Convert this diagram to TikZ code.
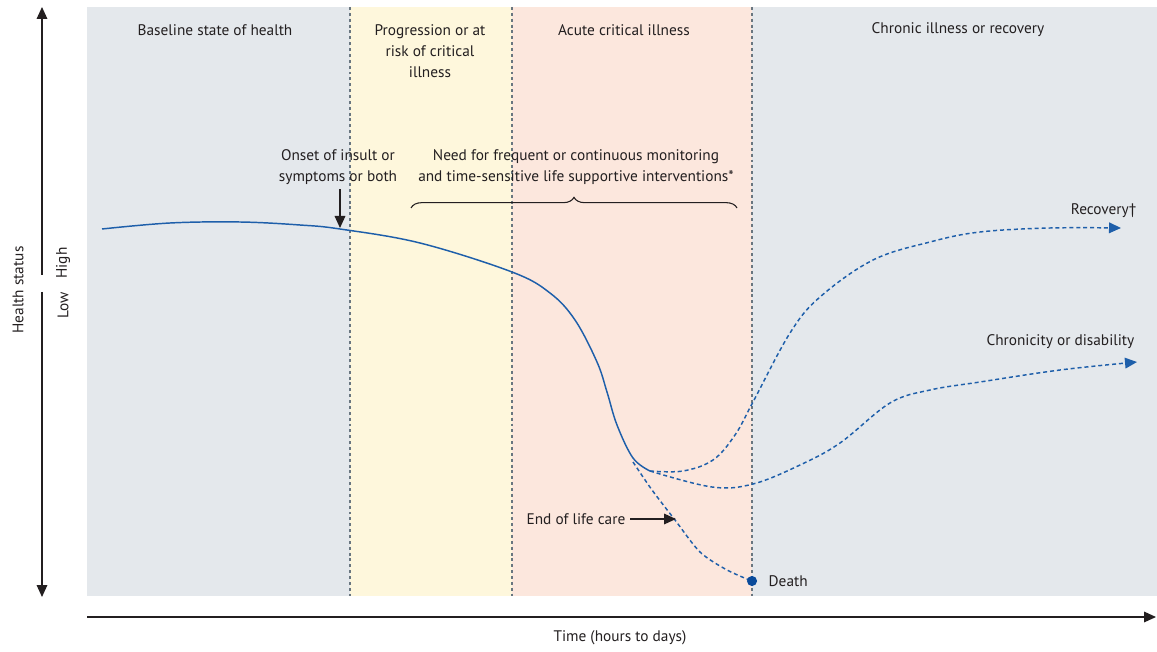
\documentclass[tikz,border=0pt]{standalone}
\usepackage{fontspec}
\setmainfont{PT Sans}
\usetikzlibrary{arrows.meta,decorations.pathreplacing}

\definecolor{panelgray}{RGB}{228,232,236}
\definecolor{panelyellow}{RGB}{254,247,220}
\definecolor{panelpink}{RGB}{252,231,221}
\definecolor{divgray}{RGB}{105,118,128}
\definecolor{curveblue}{RGB}{30,95,170}
\definecolor{dotblue}{RGB}{10,75,155}
\definecolor{txtgray}{RGB}{35,31,32}

\begin{document}
\begin{tikzpicture}[x=0.75pt,y=-0.75pt,>={Triangle[length=9pt,width=8pt]},
        every node/.style={font=\fontsize{11.5}{15.75}\selectfont, text=txtgray},
        divider/.style={divgray, line width=0.8pt, dash pattern=on 2.2pt off 2.2pt},
        course/.style={curveblue, line width=1.1pt},
        branch/.style={course, dash pattern=on 3pt off 2.2pt}]
        \useasboundingbox (0,0) rectangle (1157,652);

        % phases
        \fill[panelgray] (87,7) rectangle (350,596);
        \fill[panelyellow] (350,7) rectangle (512,596);
        \fill[panelpink] (512,7) rectangle (752,596);
        \fill[panelgray] (752,7) rectangle (1157,596);
        \foreach \x in {350,512,752}
            \draw[divider] (\x,7) -- (\x,596);

        \draw (215,30) node (baseline) {Baseline state of health};
        \draw (430,51) node[align=center] (progression) {Progression or at\\risk of critical\\illness};
        \draw (624,30) node (acute) {Acute critical illness};
        \draw (958,30) node (chronic) {Chronic illness or recovery};

        % axes
        \coordinate (hstop) at (42,7);
        \coordinate (hsgapup) at (42,275);
        \coordinate (hsgaplow) at (42,292);
        \coordinate (hsbottom) at (42,597);
        \draw[->, line width=0.9pt, txtgray] (hsgapup) -- (hstop);
        \draw[->, line width=0.9pt, txtgray] (hsgaplow) -- (hsbottom);
        \draw (18,290) node[rotate=90] (healthstatus) {Health status};
        \draw (63,263) node[rotate=90] (high) {High};
        \draw (63,305) node[rotate=90] (low) {Low};

        \coordinate (tstart) at (87,617);
        \coordinate (tend) at (1156,617);
        \draw[->, line width=0.9pt, txtgray] (tstart) -- (tend);
        \draw (620,638) node (time) {Time (hours to days)};

        % course of illness
        \coordinate (split) at (650,471);
        \coordinate (deathpt) at (752,581);
        \coordinate (recend) at (1121,228);
        \coordinate (chrend) at (1137,362);
        \draw[course] plot[smooth, tension=0.6] coordinates {(102,229) (170,223) (240,222) (300,225)
            (340,229) (420,243) (512,272) (550,293) (575,320) (597,362) (607,392) (617,425) (633,458) (split)};
        \draw[branch,->] plot[smooth, tension=0.6] coordinates {(split) (683,471) (713,460) (735,435)
            (753,402) (790,333) (820,297) (873,260) (930,242) (980,232) (1050,228) (recend)};
        \draw[branch,->] plot[smooth, tension=0.6] coordinates {(split) (712,487) (753,484) (800,465)
            (840,443) (890,403) (930,390) (980,382) (1060,370) (chrend)};
        \draw[branch] plot[smooth, tension=0.5] coordinates {(633,462) (652,490) (675,520) (700,552)
            (727,570) (deathpt)};
        \fill[dotblue] (deathpt) circle (3.8pt);

        % labels
        \draw (338,167) node[align=center] (onset) {Onset of insult or\\symptoms or both};
        \coordinate (onsetpt) at (340,228);
        \draw[->, line width=0.9pt, txtgray] (onset.south -| onsetpt) -- (onsetpt);

        \draw (576,167) node[align=center] (need) {Need for frequent or continuous monitoring\\and time-sensitive life supportive interventions*};
        \draw[decorate, decoration={brace, amplitude=8pt}, line width=0.8pt, txtgray] (411,208) -- (737,208);

        \draw (1141,211) node[anchor=east] (recovery) {Recovery†};
        \draw (1139,342) node[anchor=east] (chronicity) {Chronicity or disability};
        \draw (764,581) node[anchor=west] (death) {Death};
        \draw (630,519) node[anchor=east] (eolc) {End of life care};
        \coordinate (eolctip) at (676,519);
        \draw[->, line width=0.9pt, txtgray] (eolc.east) -- (eolctip);
    \end{tikzpicture}
\end{document}
